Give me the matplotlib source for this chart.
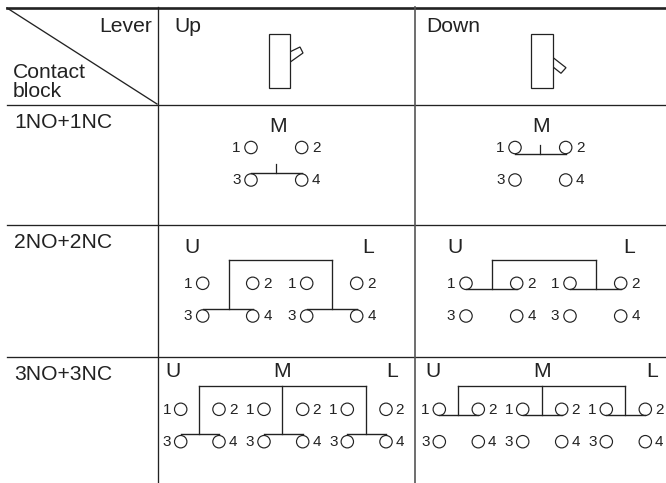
import matplotlib
matplotlib.use('Agg')
import matplotlib.pyplot as plt
from matplotlib.patches import Circle, Polygon

plt.rcParams['font.family'] = ['Liberation Sans', 'DejaVu Sans']

# table grid, in image pixels
grid_v = [157.5, 415]
grid_h = [104.5, 224.5, 356.5]

row_names = ['1NO+1NC', '2NO+2NC', '3NO+3NC']
row_name_y = [123, 243, 375]
col_names = ['Up', 'Down']
col_name_x = [174, 426]

# lever symbols
lever_rect_x = [268.7, 531.3]
lever_up = [(290.3, 51.7), (300, 47), (303, 53), (290.3, 62)]
lever_down = [(552.7, 57.3), (566, 67.7), (561, 73.3), (552.7, 66.7)]

# one entry per diagram: contact pairs x, rows y, bar y, bracket x, bracket top, letters
pairs_x = [
    [(251, 301.7)], [(515, 565.7)],
    [(202.7, 252.7), (306.7, 356.7)], [(466, 516.7), (570, 620.7)],
    [(180.7, 219), (264, 302.7), (347.3, 386)], [(439.3, 478.3), (522.7, 561.7), (606.3, 645.3)],
]
rows_y = [(147.5, 180), (147.5, 180), (283.3, 316), (283.3, 316), (409.3, 441.7), (409.3, 441.7)]
bar_y = [172.5, 153.5, 308.7, 289.3, 434.3, 415]
bracket_x = [
    [], [],
    [228.7, 332], [492.3, 596],
    [198.7, 282.3, 366], [458, 541.7, 625.3],
]
bracket_top = [None, None, 260.3, 260.3, 386.3, 386.3]
label_off = [14.5, 14.5, 15, 15, 14, 14]
letters = [
    ['M'], ['M'],
    ['U', 'L'], ['U', 'L'],
    ['U', 'M', 'L'], ['U', 'M', 'L'],
]
letters_x = [
    [278], [541],
    [191.7, 367.7], [455, 629],
    [173, 282, 391.7], [433, 541.7, 651.7],
]
letters_y = [127, 127, 247.5, 247.5, 371.5, 371.5]

ink = '#222222'
big = 15.2
small = 11

fig = plt.figure(figsize=(6.66, 4.83), dpi=100)
ax = fig.add_axes([0, 0, 1, 1])
ax.set_xlim(0, 666)
ax.set_ylim(483, 0)
ax.axis('off')

# grid
ax.plot([7, 666], [7.5, 7.5], color='#222222', lw=1.9)
for y in grid_h:
    ax.plot([7, 666], [y, y], color=ink, lw=0.95)
ax.plot([157.5, 157.5], [7, 483], color=ink, lw=0.95)
ax.plot([415, 415], [7, 483], color='#555555', lw=1.2)
ax.plot([7, 157], [8, 104], color=ink, lw=0.95)

# header text
ax.text(152, 27, 'Lever', fontsize=big, ha='right', va='center', color=ink)
ax.text(13, 72.5, 'Contact', fontsize=big, ha='left', va='center', color=ink)
ax.text(13, 91.5, 'block', fontsize=big, ha='left', va='center', color=ink)
for name, x in zip(col_names, col_name_x):
    ax.text(x, 27, name, fontsize=big, ha='left', va='center', color=ink)
for name, y in zip(row_names, row_name_y):
    ax.text(14, y, name, fontsize=big, ha='left', va='center', color=ink)

# levers
for x, handle in zip(lever_rect_x, [lever_up, lever_down]):
    ax.add_patch(Polygon(handle, closed=True, fill=False, ec=ink, lw=0.9))
    ax.add_patch(Polygon([(x, 33.5), (x + 21.6, 33.5), (x + 21.6, 88), (x, 88)],
                         closed=True, fc='white', ec=ink, lw=0.9))

# contact diagrams
for i in range(len(pairs_x)):
    y1, y2 = rows_y[i]
    off = label_off[i]
    for xl, xr in pairs_x[i]:
        ax.plot([xl, xr], [bar_y[i], bar_y[i]], color=ink, lw=1.0, zorder=3)
        for y, a, b in [(y1, '1', '2'), (y2, '3', '4')]:
            ax.add_patch(Circle((xl, y), 6.2, fill=False, ec=ink, lw=0.85))
            ax.add_patch(Circle((xr, y), 6.2, fill=False, ec=ink, lw=0.85))
            ax.text(xl - off, y + 0.5, a, fontsize=small, ha='center', va='center', color=ink)
            ax.text(xr + off, y + 0.5, b, fontsize=small, ha='center', va='center', color=ink)

    if bracket_x[i]:
        top = bracket_top[i]
        ax.plot([bracket_x[i][0], bracket_x[i][-1]], [top, top], color=ink, lw=0.95)
        for x in bracket_x[i]:
            ax.plot([x, x], [top, bar_y[i]], color=ink, lw=0.95)
    else:
        # single block only has the short stem
        x = sum(pairs_x[i][0]) / 2
        ax.plot([x, x], [bar_y[i] - 9, bar_y[i]], color=ink, lw=0.9)

    for name, x in zip(letters[i], letters_x[i]):
        ax.text(x, letters_y[i], name, fontsize=big, ha='center', va='center', color=ink)

fig.savefig('out.png', dpi=100, facecolor='white')
